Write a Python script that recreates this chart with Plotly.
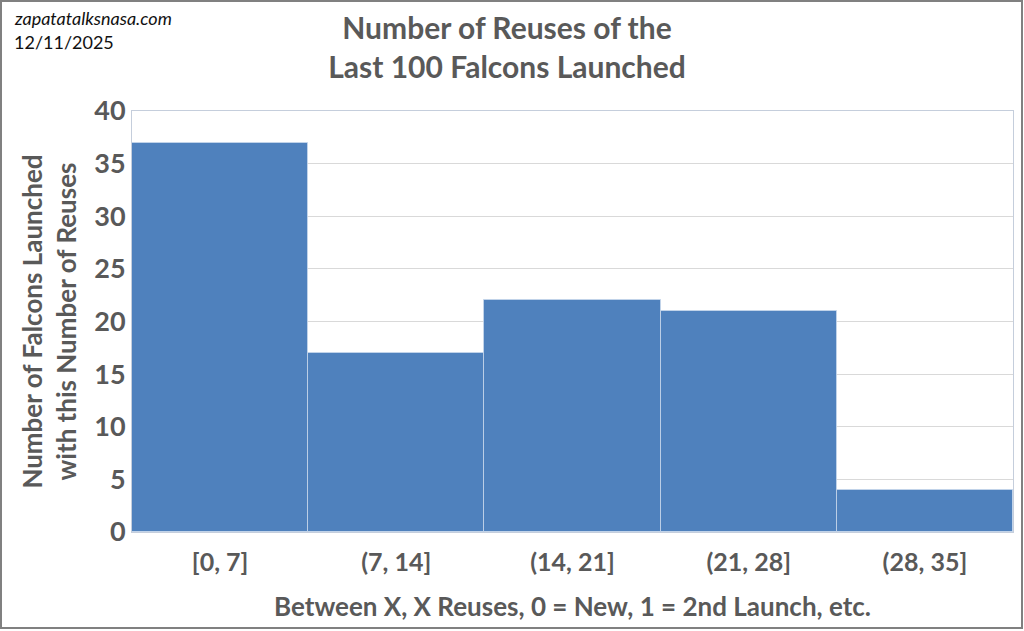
import plotly.graph_objects as go

categories = ["[0, 7]", "(7, 14]", "(14, 21]", "(21, 28]", "(28, 35]"]
counts = [37, 17, 22, 21, 4]
y_ticks = [0, 5, 10, 15, 20, 25, 30, 35, 40]

W, H = 1024, 631
L, R, T, B = 132, 11, 111, 99
pw, ph = W - L - R, H - T - B

fig = go.Figure(go.Bar(
    x=categories, y=counts,
    marker=dict(color="#4F81BD", line=dict(color="rgba(200,215,235,0.8)", width=1)),
))

font = "Lato, 'Open Sans', sans-serif"
grey = "#595959"
fig.update_layout(
    width=W, height=H,
    margin=dict(l=L, r=R, t=T, b=B),
    paper_bgcolor="white", plot_bgcolor="white",
    bargap=0, showlegend=False,
    title=dict(text="Number of Reuses of the<br>Last 100 Falcons Launched",
               x=507 / W, xanchor="center", y=1 - 39 / H, yanchor="middle",
               font=dict(family=font, size=30, color=grey, weight="bold")),
    font=dict(family=font, color=grey),
)
fig.update_xaxes(
    tickfont=dict(size=25, color=grey, family=font, weight="bold"), ticklabelstandoff=8,
    title=dict(text="Between X, X Reuses, 0 = New, 1 = 2nd Launch, etc.",
               font=dict(size=26, color=grey, family=font, weight="bold"), standoff=22),
    showline=True, linecolor="#C5CEDC", mirror=True, showgrid=False,
)
fig.update_yaxes(
    range=[0, 40], tickvals=y_ticks,
    tickfont=dict(size=27, color=grey, family=font, weight="bold"),
    showgrid=True, gridcolor="#D9D9D9", gridwidth=1,
    showline=True, linecolor="#C5CEDC", mirror=True, zeroline=False,
    title=dict(text="Number of Falcons Launched<br>with this Number of Reuses",
               font=dict(size=26, color=grey, family=font, weight="bold"), standoff=10),
)
fig.add_annotation(text="<i>zapatatalksnasa.com</i>", xref="paper", yref="paper",
                   x=(12 - L) / pw, y=1 + (T - 18) / ph, xanchor="left", yanchor="middle",
                   showarrow=False, font=dict(family=font, size=18, color="#111111", weight="normal"))
fig.add_annotation(text="12/11/2025", xref="paper", yref="paper",
                   x=(12 - L) / pw, y=1 + (T - 42) / ph, xanchor="left", yanchor="middle",
                   showarrow=False, font=dict(family=font, size=18, color="#111111", weight="normal"))
fig.add_shape(type="rect", xref="paper", yref="paper",
              x0=(1 - L) / pw, x1=(W - 2 - L) / pw, y0=-(H - 3 - T - ph) / ph, y1=1 + (T - 1) / ph,
              line=dict(color="#808080", width=2), fillcolor="rgba(0,0,0,0)")
fig.write_html("out.html", config={"displayModeBar": False},
               post_script="document.body.style.margin='0';")
